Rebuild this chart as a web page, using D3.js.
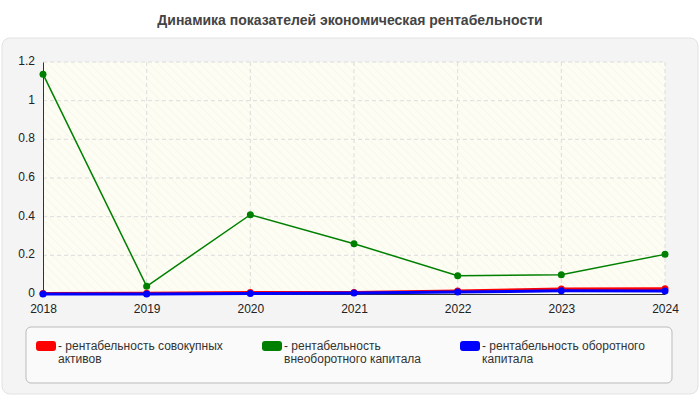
<!DOCTYPE html>
<html>
<head>
<script src="https://cdn.jsdelivr.net/npm/d3@7"></script>
<style>body{margin:0;font-family:Arial,"Liberation Sans",sans-serif;}</style>
</head>
<body>
<div id="chart"></div>
<script>
const years = ["2018","2019","2020","2021","2022","2023","2024"];
const seriesNames = ["рентабельность совокупных активов", "рентабельность внеоборотного капитала", "рентабельность оборотного капитала"];
const seriesColors = ["#ff0000", "#008000", "#0000ff"];
const assets = [0.003, 0.004, 0.008, 0.008, 0.015, 0.026, 0.027];
const fixedCap = [1.137, 0.04, 0.41, 0.26, 0.095, 0.10, 0.205];
const workingCap = [0.0, 0.0, 0.002, 0.005, 0.01, 0.017, 0.015];
const yTicks = [0, 0.2, 0.4, 0.6, 0.8, 1, 1.2];

const W = 700, H = 400;
const svg = d3.select("#chart").append("svg").attr("width", W).attr("height", H);
const defs = svg.append("defs");
const pat = defs.append("pattern").attr("id", "hatch").attr("width", 6).attr("height", 6)
  .attr("patternUnits", "userSpaceOnUse").attr("patternTransform", "rotate(-45)");
pat.append("rect").attr("width", 6).attr("height", 6).attr("fill", "#fdfdf3");
pat.append("line").attr("x1", 0).attr("y1", 0).attr("x2", 0).attr("y2", 6).attr("stroke", "#f1f1e6").attr("stroke-width", 1);

svg.append("rect").attr("width", W).attr("height", H).attr("fill", "#fff");
svg.append("text").attr("x", W / 2).attr("y", 25).attr("text-anchor", "middle")
  .attr("font-size", 14).attr("font-weight", "bold").attr("fill", "#444")
  .text("Динамика показателей экономическая рентабельности");
svg.append("rect").attr("x", 2).attr("y", 38).attr("width", 696).attr("height", 356).attr("rx", 8)
  .attr("fill", "#f4f4f4").attr("stroke", "#e2e2e2");

const x = d3.scalePoint().domain(years).range([43, 665]);
const y = d3.scaleLinear().domain([0, 1.2]).range([294, 62]);

svg.append("rect").attr("x", 43).attr("y", 62).attr("width", 622).attr("height", 232).attr("fill", "url(#hatch)");

svg.append("g").selectAll("line").data(yTicks.slice(1)).join("line")
  .attr("x1", 43).attr("x2", 665).attr("y1", d => y(d)).attr("y2", d => y(d))
  .attr("stroke", "#ddd").attr("stroke-dasharray", "4,3");
svg.append("g").selectAll("line").data(years.slice(1)).join("line")
  .attr("x1", d => x(d)).attr("x2", d => x(d)).attr("y1", 62).attr("y2", 294)
  .attr("stroke", "#ddd").attr("stroke-dasharray", "4,3");

const yAxis = svg.append("g").attr("transform", "translate(43,0)")
  .call(d3.axisLeft(y).tickValues(yTicks).tickSize(0).tickPadding(8).tickFormat(d3.format("~g")));
yAxis.selectAll("text").attr("dy", "0.2em");
const xAxis = svg.append("g").attr("transform", "translate(0,294)")
  .call(d3.axisBottom(x).tickSize(0).tickPadding(10));
[yAxis, xAxis].forEach(g => {
  g.selectAll("text").attr("font-size", 12).attr("fill", "#222").attr("font-family", "Arial,'Liberation Sans',sans-serif");
  g.select(".domain").attr("stroke", "#333");
});

const line = d3.line().x((d, i) => x(years[i])).y(d => y(d));
[fixedCap, assets, workingCap].forEach((vals, k) => {
  const c = [seriesColors[1], seriesColors[0], seriesColors[2]][k];
  const w = k === 0 ? 1.5 : 3;
  svg.append("path").datum(vals).attr("d", line).attr("fill", "none").attr("stroke", c).attr("stroke-width", w);
  svg.append("g").selectAll("circle").data(vals).join("circle")
    .attr("cx", (d, i) => x(years[i])).attr("cy", d => y(d)).attr("r", 3.5).attr("fill", c);
});

svg.append("rect").attr("x", 26).attr("y", 327).attr("width", 646).attr("height", 56).attr("rx", 5)
  .attr("fill", "#fafafa").attr("stroke", "#bbb");
const legX = [36, 262, 460];
const legLines = [["- рентабельность совокупных", "активов"], ["- рентабельность", "внеоборотного капитала"], ["- рентабельность оборотного", "капитала"]];
legX.forEach((lx, i) => {
  svg.append("rect").attr("x", lx).attr("y", 341).attr("width", 20).attr("height", 10).attr("rx", 3).attr("fill", seriesColors[i]);
  const t = svg.append("text").attr("x", lx + 22).attr("y", 350).attr("font-size", 12).attr("fill", "#333");
  legLines[i].forEach((s, j) => t.append("tspan").attr("x", lx + 22).attr("dy", j ? 13 : 0).text(s));
});
</script>
</body>
</html>
